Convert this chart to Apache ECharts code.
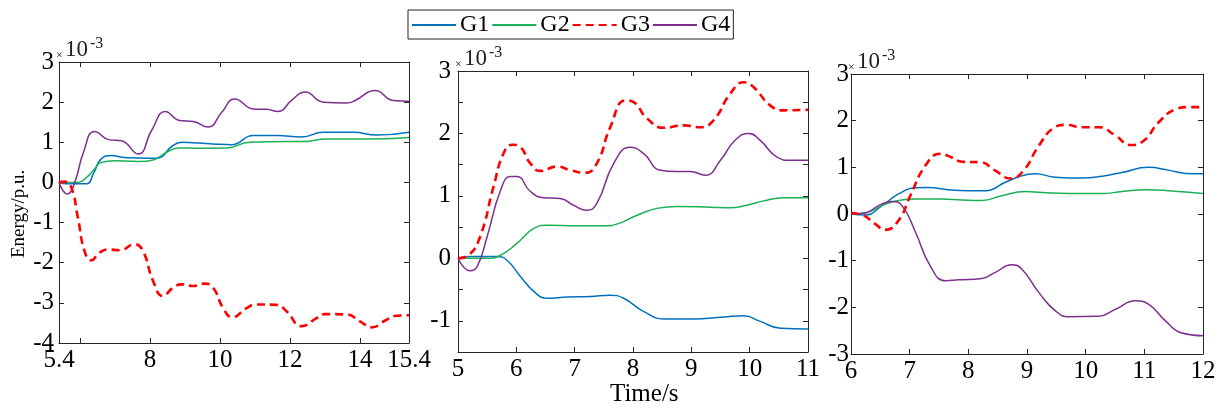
<!DOCTYPE html>
<html>
<head>
<meta charset="utf-8">
<script src="https://cdn.jsdelivr.net/npm/echarts@6/dist/echarts.min.js"></script>
<style>
  html, body { margin: 0; padding: 0; background: #fff; }
  #chart { width: 1225px; height: 409px; }
</style>
</head>
<body>
<div id="chart"></div>
<script>
// values are in units of 1e-3 p.u. (matches the x10^-3 axis labels)
const names = ['G1', 'G2', 'G3', 'G4'];

// panel 1 : t = 5.4 .. 15.4
const p1G1 = [[5.4,0],[5.6,-0.03],[6.0,-0.03],[6.2,-0.03],[6.4,0.25],[6.6,0.58],[6.9,0.67],[7.2,0.63],[7.61,0.61],[8.18,0.6],[8.66,0.92],[8.95,1.0],[9.42,0.98],[9.8,0.96],[10.33,0.94],[10.95,1.17],[11.62,1.17],[12.33,1.13],[12.95,1.25],[13.81,1.25],[14.48,1.18],[15.4,1.25]];
const p1G2 = [[5.4,0],[5.93,0],[6.18,0.12],[6.42,0.34],[6.61,0.5],[6.99,0.54],[7.4,0.53],[7.71,0.52],[8.09,0.56],[8.47,0.75],[8.85,0.86],[9.42,0.85],[10.19,0.86],[10.85,1.0],[11.99,1.02],[12.38,1.02],[13.05,1.08],[14.19,1.08],[15.4,1.12]];
const p1G3 = [[5.4,0],[5.56,0.02],[5.75,-0.12],[5.94,-0.88],[6.13,-1.71],[6.32,-1.94],[6.56,-1.75],[6.8,-1.67],[7.13,-1.69],[7.56,-1.54],[7.8,-1.71],[8.09,-2.46],[8.37,-2.83],[8.66,-2.62],[8.9,-2.54],[9.23,-2.58],[9.56,-2.52],[9.8,-2.62],[10.09,-3.13],[10.35,-3.36],[10.76,-3.13],[11.04,-3.04],[11.62,-3.05],[11.9,-3.21],[12.33,-3.58],[12.76,-3.38],[12.99,-3.28],[13.62,-3.29],[14.0,-3.46],[14.33,-3.61],[14.76,-3.42],[15.05,-3.32],[15.4,-3.31]];
const p1G4 = [[5.4,0],[5.64,-0.29],[5.85,0],[6.1,0.75],[6.42,1.27],[6.85,1.06],[7.18,1.04],[7.66,0.71],[8.05,1.3],[8.44,1.77],[8.85,1.54],[9.23,1.52],[9.66,1.38],[10.05,1.75],[10.42,2.08],[10.95,1.83],[11.33,1.82],[11.66,1.77],[12.05,2.05],[12.43,2.25],[12.95,2.0],[13.62,1.98],[13.86,2.04],[14.43,2.29],[14.95,2.04],[15.4,2.02]];

// panel 2 : t = 5 .. 11
const p2G1 = [[5,0],[5.21,0.03],[5.67,0.03],[5.84,-0.03],[6.07,-0.29],[6.3,-0.53],[6.53,-0.64],[6.87,-0.62],[7.27,-0.61],[7.61,-0.59],[7.84,-0.64],[8.18,-0.85],[8.53,-0.97],[9.04,-0.97],[9.55,-0.94],[9.9,-0.92],[10.18,-1.01],[10.53,-1.12],[11,-1.13]];
const p2G2 = [[5,0],[5.5,0],[5.73,0.05],[6.01,0.24],[6.3,0.48],[6.53,0.53],[7.04,0.52],[7.5,0.52],[7.76,0.56],[8.07,0.69],[8.41,0.8],[8.75,0.83],[9.33,0.82],[9.67,0.81],[9.95,0.85],[10.24,0.92],[10.58,0.97],[11,0.97]];
const p2G3 = [[5,0],[5.18,0.05],[5.38,0.35],[5.61,1.15],[5.78,1.68],[5.93,1.82],[6.07,1.78],[6.24,1.52],[6.41,1.4],[6.7,1.47],[6.93,1.41],[7.18,1.37],[7.38,1.52],[7.61,2.1],[7.87,2.53],[8.01,2.5],[8.24,2.24],[8.53,2.09],[8.87,2.13],[9.15,2.1],[9.38,2.21],[9.67,2.64],[9.9,2.82],[10.07,2.74],[10.35,2.45],[10.58,2.37],[11,2.38]];
const p2G4 = [[5,0],[5.21,-0.2],[5.33,-0.13],[5.5,0.35],[5.73,1.09],[5.9,1.31],[6.01,1.31],[6.24,1.07],[6.47,0.97],[6.75,0.96],[6.98,0.85],[7.21,0.77],[7.38,0.88],[7.67,1.52],[7.95,1.78],[8.18,1.68],[8.47,1.41],[8.75,1.39],[8.98,1.39],[9.24,1.33],[9.5,1.57],[9.75,1.89],[9.98,2.0],[10.18,1.89],[10.47,1.62],[10.7,1.57],[11,1.57]];

// panel 3 : t = 6 .. 12
const p3G1 = [[6,0],[6.24,-0.02],[6.53,0.18],[6.81,0.43],[7.1,0.56],[7.32,0.57],[7.66,0.52],[8.01,0.5],[8.29,0.5],[8.63,0.68],[8.91,0.82],[9.14,0.86],[9.48,0.79],[9.94,0.77],[10.28,0.81],[10.62,0.89],[11.07,1.0],[11.41,0.94],[11.7,0.87],[12,0.86]];
const p3G2 = [[6,0],[6.24,0.02],[6.53,0.18],[6.81,0.29],[7.1,0.32],[7.55,0.32],[7.89,0.3],[8.23,0.29],[8.57,0.39],[8.97,0.48],[9.26,0.46],[9.71,0.44],[10.28,0.44],[10.62,0.48],[11.02,0.52],[11.41,0.5],[12,0.44]];
const p3G3 = [[6,0.02],[6.19,-0.02],[6.41,-0.21],[6.58,-0.34],[6.81,-0.14],[7.01,0.39],[7.27,1.04],[7.52,1.29],[7.72,1.21],[7.89,1.12],[8.2,1.11],[8.46,0.93],[8.72,0.76],[8.94,0.93],[9.2,1.46],[9.45,1.84],[9.65,1.91],[9.94,1.86],[10.22,1.86],[10.51,1.68],[10.76,1.48],[10.99,1.57],[11.24,1.96],[11.53,2.24],[11.76,2.29],[12,2.29]];
const p3G4 = [[6,0],[6.24,0.02],[6.47,0.18],[6.7,0.27],[6.87,0.18],[7.1,-0.39],[7.35,-1.11],[7.61,-1.43],[7.84,-1.41],[8.23,-1.38],[8.46,-1.25],[8.74,-1.09],[8.91,-1.18],[9.2,-1.68],[9.48,-2.07],[9.71,-2.2],[10.22,-2.19],[10.51,-2.04],[10.85,-1.86],[11.07,-1.93],[11.36,-2.29],[11.64,-2.55],[12,-2.61]];

const panelData = [[p1G1, p1G2, p1G3, p1G4], [p2G1, p2G2, p2G3, p2G4], [p3G1, p3G2, p3G3, p3G4]];

// axis ranges and ticks
const xRanges = [[5.4, 15.4], [5, 11], [6, 12]];
const xTicks1 = [5.4, 6, 8, 10, 12, 14, 15.4];
const xLabels1 = [5.4, 8, 10, 12, 14, 15.4];
const yRanges = [[-4, 3], [-1.5, 3], [-3, 3]];
const yIntervals = [1, 0.5, 1];

const colors = ['#0072BD', '#1BB157', '#FF0000', '#7E2F8E'];
const FONT = 'Liberation Serif';
const AXIS = '#262626';

const grids = [
  { left: 59, top: 62, width: 350, height: 281 },
  { left: 458, top: 71, width: 350, height: 281 },
  { left: 851, top: 74, width: 352, height: 280 }
];
const yLabelMargins = [5, 7, 2];

const chart = echarts.init(document.getElementById('chart'), null, { renderer: 'canvas' });

const xAxis = [];
const yAxis = [];
const series = [];

grids.forEach((g, i) => {
  const xBase = {
    type: 'value', gridIndex: i, min: xRanges[i][0], max: xRanges[i][1],
    splitLine: { show: false },
    axisLine: { show: true, onZero: false, lineStyle: { color: AXIS, width: 1 } },
    axisTick: { show: true, inside: true, length: 5, lineStyle: { color: AXIS } }
  };
  if (i === 0) {
    xBase.axisTick.customValues = xTicks1;
  } else {
    xBase.interval = 1;
  }
  const xBottom = echarts.util.merge({
    position: 'bottom',
    axisLabel: { show: true, color: '#000', fontFamily: FONT, fontSize: 25, margin: 5 }
  }, xBase, true);
  if (i === 0) xBottom.axisLabel.customValues = xLabels1;
  const xTop = echarts.util.merge({ position: 'top', axisLabel: { show: false } }, xBase, true);
  xAxis.push(xBottom, xTop);

  const yBase = {
    type: 'value', gridIndex: i, min: yRanges[i][0], max: yRanges[i][1], interval: yIntervals[i],
    splitLine: { show: false },
    axisLine: { show: true, onZero: false, lineStyle: { color: AXIS, width: 1 } },
    axisTick: { show: true, inside: true, length: 5, lineStyle: { color: AXIS } }
  };
  const yLeft = echarts.util.merge({
    position: 'left',
    axisLabel: {
      show: true, color: '#000', fontFamily: FONT, fontSize: 25, margin: yLabelMargins[i],
      formatter: v => (Number.isInteger(v) ? String(v) : '')
    }
  }, yBase, true);
  const yRight = echarts.util.merge({ position: 'right', axisLabel: { show: false } }, yBase, true);
  yAxis.push(yLeft, yRight);

  panelData[i].forEach((d, k) => {
    series.push({
      name: names[k],
      type: 'line',
      xAxisIndex: i * 2,
      yAxisIndex: i * 2,
      data: d,
      symbol: 'none',
      smooth: 0.5,
      lineStyle: k === 2
        ? { color: colors[k], width: 2.6, type: [8, 5] }
        : { color: colors[k], width: 1.5 },
      itemStyle: { color: colors[k] },
      z: k === 2 ? 3 : 2
    });
  });
});

// x10^-3 multipliers and axis titles
const graphic = [];
grids.forEach(g => {
  graphic.push(
    { type: 'text', left: g.left - 3, top: g.top - 12, style: { text: '×', font: '12px ' + FONT, fill: '#222' } },
    { type: 'text', left: g.left + 6, top: g.top - 24, style: { text: '10', font: '23px ' + FONT, fill: '#222' } },
    { type: 'text', left: g.left + 31, top: g.top - 26, style: { text: '-3', font: '16px ' + FONT, fill: '#222' } }
  );
});
graphic.push(
  { type: 'text', x: 10, y: 258, rotation: Math.PI / 2, style: { text: 'Energy/p.u.', font: '19px ' + FONT, fill: '#000' } },
  { type: 'text', left: 610, top: 382, style: { text: 'Time/s', font: '25px ' + FONT, fill: '#000' } }
);

chart.setOption({
  animation: false,
  backgroundColor: '#fff',
  legend: {
    data: names,
    left: 408,
    top: 10,
    orient: 'horizontal',
    itemWidth: 44,
    itemHeight: 14,
    itemGap: 2,
    padding: [3, 3, 2, 3],
    borderColor: '#222',
    borderWidth: 1,
    itemStyle: { color: 'rgba(0,0,0,0)', borderWidth: 0 },
    textStyle: { fontFamily: FONT, fontSize: 24, color: '#000', padding: [0, 0, 0, -1] }
  },
  grid: grids.map(g => Object.assign({ containLabel: false }, g)),
  xAxis,
  yAxis,
  series,
  graphic
});
</script>
</body>
</html>
